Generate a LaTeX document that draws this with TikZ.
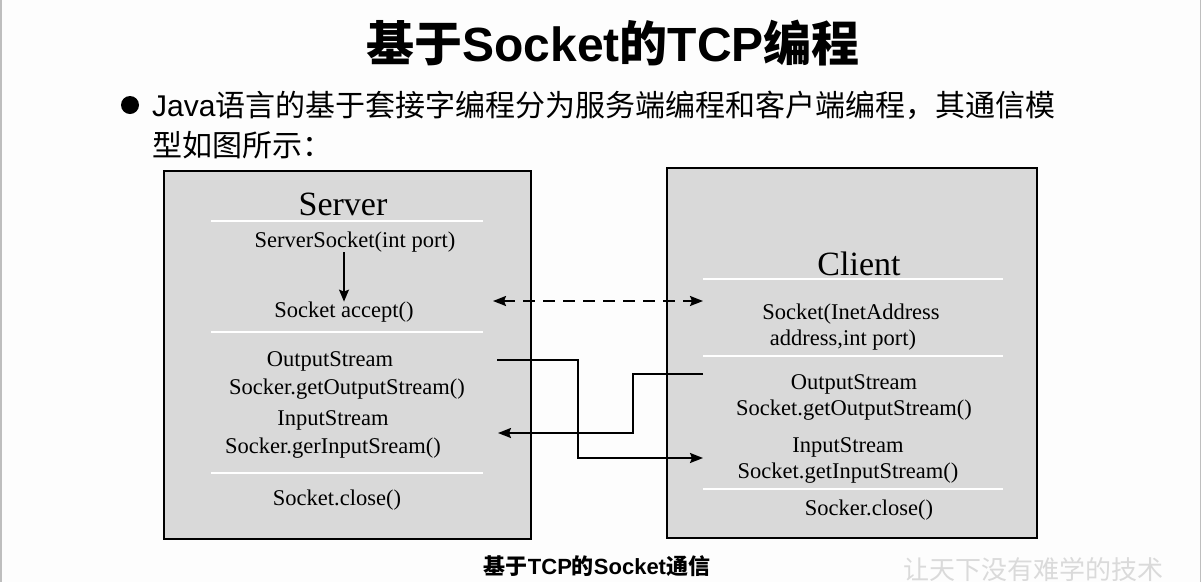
\documentclass[tikz,border=0pt]{standalone}
\usepackage{fontspec}
\setmainfont{Liberation Serif}
\newfontfamily\cjk{Noto Sans CJK SC}
\newfontfamily\arial{Liberation Sans}
\usetikzlibrary{arrows.meta,positioning}
\definecolor{boxgray}{RGB}{217,217,217}
\definecolor{pagegray}{RGB}{190,190,190}
\definecolor{markgray}{RGB}{218,218,218}
\definecolor{pagebg}{RGB}{253,253,253}

\begin{document}
\begin{tikzpicture}[x=1pt, y=-1pt,
  every node/.style = {inner sep=0pt},
  panel/.style   = {draw=black, line width=1.4pt, fill=boxgray},
  sepline/.style = {draw=white, line width=1.2pt},
  code/.style    = {font=\fontsize{22.5}{26}\selectfont},
  head/.style    = {font=\fontsize{34}{38}\selectfont},
  tip/.style     = {-{Stealth[length=13pt,width=10pt,inset=2pt]}},
  flow/.style    = {line width=2pt, tip},
  dflow/.style   = {line width=2pt, dash pattern=on 12pt off 8pt,
                    {Stealth[length=13pt,width=10pt,inset=2pt]}-{Stealth[length=13pt,width=10pt,inset=2pt]}},
  stepline/.style = {line width=1.2pt, -{Stealth[length=12pt,width=10pt,inset=2pt]}},
]

%% -- Page ---------------------------------------------------------------------
\useasboundingbox (0,0) rectangle (1201,582);
\fill[pagebg] (0,0) rectangle (1201,582);
\draw[pagegray, line width=1.5pt] (0.75,0) -- (0.75,582);
\draw[pagegray, line width=1.5pt] (1200.25,0) -- (1200.25,582);

%% -- Title and bullet ---------------------------------------------------------
\node (title) at (613,43)
  {\fontsize{48}{52}\selectfont\bfseries{\cjk 基于}{\arial Socket}{\cjk 的}{\arial TCP}{\cjk 编程}};
\node[circle, fill=black, minimum size=18pt] (dot) at (130,105) {};
\node[anchor=west] (line1) at (152,105)
  {\fontsize{30}{34}\selectfont{\arial Java}{\cjk 语言的基于套接字编程分为服务端编程和客户端编程，其通信模}};
\node[anchor=west] (line2) at (152,145)
  {\fontsize{30}{34}\selectfont\cjk 型如图所示：};

%% -- Server panel -------------------------------------------------------------
\draw[panel] (164,171) rectangle (531,539);
\foreach \y in {221,332,473}
  \draw[sepline] (211,\y) -- (483,\y);
\node[head] (server) at (343,204) {Server};
\node[code] (ssock)  at (355,242) {ServerSocket(int port)};
\node[code] (accept) at (344,312) {Socket accept()};
\node[code] (sout)   at (330,361) {OutputStream};
\node[code] (soutm)  at (347,389) {Socker.getOutputStream()};
\node[code] (sin)    at (333,420) {InputStream};
\node[code] (sinm)   at (333,448) {Socker.gerInputSream()};
\node[code] (sclose) at (337,500) {Socket.close()};

%% -- Client panel -------------------------------------------------------------
\draw[panel] (667,168) rectangle (1037,538);
\foreach \y in {279,356,489}
  \draw[sepline] (703,\y) -- (1003,\y);
\node[head] (client) at (859,264) {Client};
\node[code] (csock)  at (851,314) {Socket(InetAddress};
\node[code] (caddr)  at (843,340) {address,int port)};
\node[code] (cout)   at (854,384) {OutputStream};
\node[code] (coutm)  at (854,410) {Socket.getOutputStream()};
\node[code] (cin)    at (848,447) {InputStream};
\node[code] (cinm)   at (848,473) {Socket.getInputStream()};
\node[code] (cclose) at (869,510) {Socker.close()};

%% -- Connectors ---------------------------------------------------------------
\coordinate (accEnd)  at (493,301);
\coordinate (conEnd)  at (703,301);
\coordinate (sOutEnd) at (497,360);
\coordinate (cInEnd)  at (703,458);
\coordinate (cOutEnd) at (703,374);
\coordinate (sInEnd)  at (498,433);

\draw[stepline] (ssock.south -| accept.north) -- (accept.north);
\draw[dflow] (accEnd) -- (conEnd);
\draw[flow]  (sOutEnd) -- ++(81,0) |- (cInEnd);
\draw[flow]  (cOutEnd) -- ++(-70,0) |- (sInEnd);

%% -- Caption ------------------------------------------------------------------
\node (caption) at (597,566)
  {\fontsize{22}{26}\selectfont\bfseries{\cjk 基于}{\arial TCP}{\cjk 的}{\arial Socket}{\cjk 通信}};
\node[text=markgray, anchor=west] (motto) at (903,570)
  {\fontsize{26}{28}\selectfont\cjk 让天下没有难学的技术};

\end{tikzpicture}
\end{document}
